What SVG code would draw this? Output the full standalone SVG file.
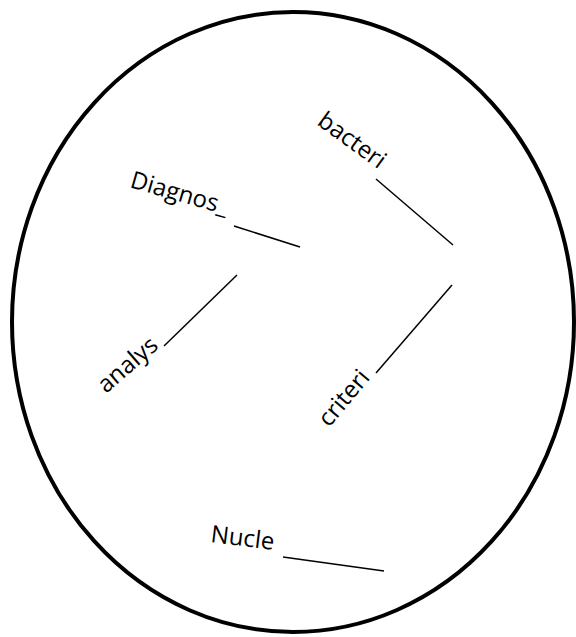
<svg xmlns="http://www.w3.org/2000/svg" width="576" height="637" viewBox="0 0 576 637">
<style>
.t{font-family:"Open Sans","Liberation Sans",sans-serif;font-size:24px;fill:#000}
.c{stroke:#000;stroke-width:1.5;fill:none}
</style>
<rect width="576" height="637" fill="#fff"/>
<g id="boundary"><ellipse cx="293" cy="322" rx="281" ry="310" fill="none" stroke="#000" stroke-width="4"/></g>
<g id="diagnos"><text class="t" transform="translate(129,187) rotate(16)">Diagnos_</text></g>
<g id="bacteri"><text class="t" transform="translate(316,124) rotate(36)">bacteri</text></g>
<g id="analys"><text class="t" transform="translate(106,394) rotate(-41)">analys</text></g>
<g id="criteri"><text class="t" transform="translate(329,428) rotate(-50)">criteri</text></g>
<g id="nucle"><text class="t" transform="translate(210,542) rotate(7)">Nucle</text></g>
<g id="connectors">
<line class="c" x1="234" y1="226" x2="300" y2="247"/>
<line class="c" x1="376" y1="179" x2="453" y2="245"/>
<line class="c" x1="164" y1="346" x2="237" y2="275"/>
<line class="c" x1="376" y1="373" x2="452" y2="285"/>
<line class="c" x1="283" y1="557" x2="384" y2="571"/>
</g>
</svg>
